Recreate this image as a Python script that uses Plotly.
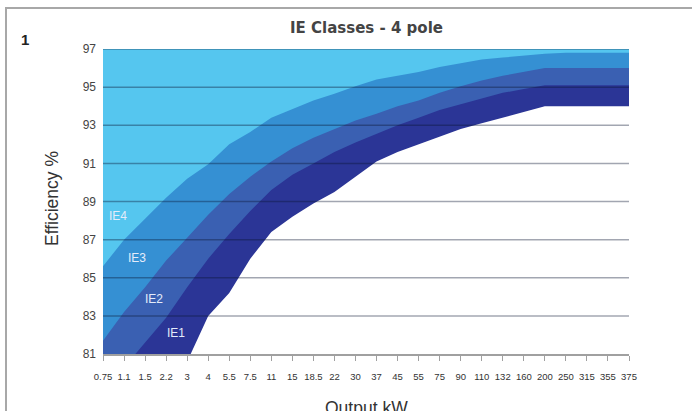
import plotly.graph_objects as go

categories = ["0.75", "1.1", "1.5", "2.2", "3", "4", "5.5", "7.5", "11", "15", "18.5", "22",
              "30", "37", "45", "55", "75", "90", "110", "132", "160", "200", "250", "315", "355", "375"]

ie4 = [85.6, 87.0, 88.1, 89.2, 90.2, 90.95, 92.0, 92.65, 93.4, 93.85, 94.3, 94.65, 95.05,
       95.4, 95.6, 95.8, 96.05, 96.25, 96.45, 96.55, 96.65, 96.75, 96.8, 96.8, 96.8, 96.8]
ie3 = [81.7, 83.2, 84.5, 85.9, 87.1, 88.3, 89.4, 90.3, 91.1, 91.8, 92.35, 92.8, 93.25,
       93.6, 94.0, 94.3, 94.7, 95.05, 95.35, 95.6, 95.8, 96.0, 96.0, 96.0, 96.0, 96.0]
ie2 = [79.0, 80.3, 81.6, 82.9, 84.5, 86.0, 87.3, 88.5, 89.6, 90.4, 91.0, 91.6, 92.1,
       92.55, 93.0, 93.4, 93.8, 94.1, 94.4, 94.7, 94.9, 95.1, 95.1, 95.1, 95.1, 95.1]
ie1 = [72.1, 75.0, 77.2, 79.7, 80.6, 83.0, 84.2, 86.0, 87.4, 88.2, 88.9, 89.5, 90.3,
       91.1, 91.6, 92.0, 92.4, 92.8, 93.1, 93.4, 93.7, 94.0, 94.0, 94.0, 94.0, 94.0]

y_ticks = [81, 83, 85, 87, 89, 91, 93, 95, 97]

class_labels = ["IE4", "IE3", "IE2", "IE1"]
label_x = [0.73, 1.63, 2.42, 3.45]
label_y = [88.25, 86.03, 83.9, 82.1]

c_light = "#55c6ef"
c_med = "#3590d3"
c_dark = "#3a60b2"
c_darkest = "#2b3596"

L, R, T, B = 103, 629, 49, 354
PW, PH = R - L, B - T

fig = go.Figure()
series = [(ie4, c_med), (ie3, c_dark), (ie2, c_darkest), (ie1, "#ffffff")]
for vals, col in series:
    fig.add_trace(go.Scatter(
        x=categories, y=vals, mode="lines", fill="tozeroy",
        fillcolor=col, line=dict(width=0, color=col), hoverinfo="skip",
        showlegend=False,
    ))

shapes = []
for t in y_ticks[1:]:
    shapes.append(dict(type="line", xref="paper", yref="y", x0=0, x1=1, y0=t, y1=t,
                       line=dict(color="rgba(10,20,50,0.38)", width=1.5), layer="above"))
# outer frame
shapes.append(dict(type="rect", xref="paper", yref="paper",
                   x0=(6 - L) / PW, x1=(720 - L) / PW,
                   y0=(B - 430) / PH, y1=(B - 8) / PH,
                   line=dict(color="#a8a8a8", width=2), layer="above"))

annotations = []
for name, lx, ly in zip(class_labels, label_x, label_y):
    annotations.append(dict(x=lx, y=ly, xref="x", yref="y", text=name, showarrow=False,
                            font=dict(family="Liberation Sans", size=12, color="#e4ecfa")))
annotations.append(dict(x=(19 - L) / PW, y=(B - 29) / PH, xref="paper", yref="paper",
                        text="<b>1</b>", showarrow=False,
                        font=dict(family="Liberation Sans", size=15, color="#222")))
annotations.append(dict(x=0.5, y=(B - 408) / PH, xref="paper", yref="paper",
                        text="Output kW", showarrow=False, yanchor="middle",
                        font=dict(family="Liberation Sans", size=17.5, color="#333")))
annotations.append(dict(x=(52 - L) / PW, y=(B - 199) / PH, xref="paper", yref="paper",
                        text="Efficiency %", showarrow=False, textangle=-90,
                        xanchor="center", yanchor="middle",
                        font=dict(family="Liberation Sans", size=17.5, color="#333")))
annotations.append(dict(x=0.5, y=(B - 28) / PH, xref="paper", yref="paper",
                        text="<b>IE Classes - 4 pole</b>", showarrow=False,
                        xanchor="center", yanchor="middle",
                        font=dict(family="DejaVu Sans", size=15, color="#444")))

fig.update_layout(
    width=692, height=411,
    margin=dict(l=L, r=692 - R, t=T, b=411 - B),
    paper_bgcolor="white",
    plot_bgcolor=c_light,
    xaxis=dict(type="category", range=[0, len(categories) - 1], showgrid=False,
               showline=True, linecolor="#a0a0a0", linewidth=1.5,
               ticks="outside", ticklen=5, tickcolor="#a0a0a0", tickwidth=1,
               tickfont=dict(family="Liberation Sans", size=9.5, color="#333"),
               ticklabelstandoff=8, zeroline=False, fixedrange=True, automargin=False),
    yaxis=dict(range=[81, 97], tickvals=y_ticks, showgrid=False, zeroline=False,
               showline=False, ticks="",
               tickfont=dict(family="Liberation Sans", size=12, color="#444"),
               ticklabelstandoff=6, automargin=False),
    shapes=shapes,
    annotations=annotations,
)

fig.write_html("out.html", config={"displayModeBar": False},
               post_script="document.body.style.margin='0';document.body.style.overflow='hidden';")
